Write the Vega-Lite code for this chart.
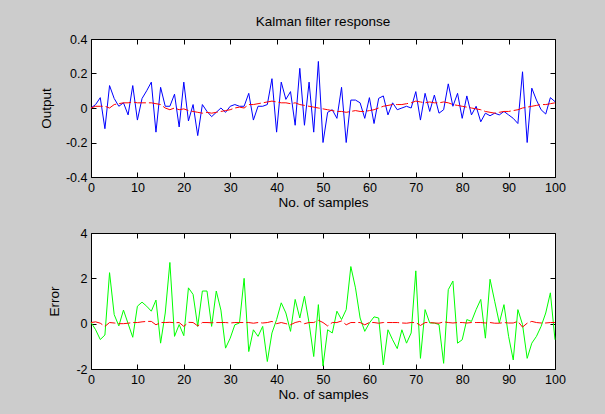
{
  "$schema": "https://vega.github.io/schema/vega-lite/v6.json",
  "background": "#cccccc",
  "padding": {"left": 38, "top": 14, "right": 48, "bottom": 14},
  "spacing": 16,
  "config": {
    "view": {"stroke": "#000000", "strokeWidth": 1, "fill": "#ffffff"},
    "font": "Liberation Sans",
    "axis": {
      "labelFont": "Liberation Sans", "labelFontSize": 12.5, "labelColor": "#000000", "labelFlush": false,
      "titleFont": "Liberation Sans", "titleFontSize": 13.5, "titleFontWeight": "normal", "titleColor": "#000000",
      "domain": false, "grid": false, "tickColor": "#000000", "tickSize": -5, "labelPadding": 9
    },
    "title": {"font": "Liberation Sans", "fontSize": 13.5, "fontWeight": "normal", "color": "#000000"}
  },
  "datasets": {
    "d": [
      {"x":0,"out":0.0,"est":0.0,"err":0.06,"eerr":0.05},
      {"x":1,"out":0.02,"est":0.01,"err":-0.27,"eerr":0.08},
      {"x":2,"out":0.06,"est":0.01,"err":-0.7,"eerr":0.02},
      {"x":3,"out":-0.12,"est":0.01,"err":-0.5,"eerr":-0.12},
      {"x":4,"out":0.13,"est":0.0,"err":2.25,"eerr":0.05},
      {"x":5,"out":0.055,"est":0.02,"err":0.4,"eerr":0.03},
      {"x":6,"out":0.01,"est":0.025,"err":-0.1,"eerr":0.0},
      {"x":7,"out":0.03,"est":0.03,"err":0.6,"eerr":0.0},
      {"x":8,"out":-0.04,"est":0.03,"err":0.0,"eerr":0.02},
      {"x":9,"out":0.13,"est":0.035,"err":-0.6,"eerr":0.05},
      {"x":10,"out":-0.07,"est":0.03,"err":0.77,"eerr":0.05},
      {"x":11,"out":0.055,"est":0.03,"err":0.95,"eerr":0.08},
      {"x":12,"out":0.1,"est":0.03,"err":0.77,"eerr":0.1},
      {"x":13,"out":0.15,"est":0.03,"err":0.55,"eerr":0.1},
      {"x":14,"out":-0.14,"est":0.025,"err":1.04,"eerr":-0.05},
      {"x":15,"out":0.12,"est":0.02,"err":-0.86,"eerr":0.05},
      {"x":16,"out":0.01,"est":0.0,"err":0.47,"eerr":0.05},
      {"x":17,"out":0.01,"est":-0.01,"err":2.7,"eerr":0.06},
      {"x":18,"out":0.08,"est":0.0,"err":-0.56,"eerr":0.04},
      {"x":19,"out":-0.11,"est":-0.01,"err":-0.04,"eerr":0.05},
      {"x":20,"out":0.15,"est":-0.005,"err":-0.53,"eerr":-0.12},
      {"x":21,"out":-0.075,"est":-0.015,"err":1.58,"eerr":0.06},
      {"x":22,"out":0.02,"est":-0.02,"err":1.29,"eerr":0.05},
      {"x":23,"out":-0.16,"est":-0.025,"err":-0.12,"eerr":-0.1},
      {"x":24,"out":0.02,"est":-0.03,"err":1.44,"eerr":0.05},
      {"x":25,"out":-0.02,"est":-0.025,"err":1.44,"eerr":0.05},
      {"x":26,"out":-0.05,"est":-0.03,"err":-0.12,"eerr":0.04},
      {"x":27,"out":-0.025,"est":-0.025,"err":1.44,"eerr":0.05},
      {"x":28,"out":0.0,"est":-0.02,"err":0.6,"eerr":0.05},
      {"x":29,"out":-0.025,"est":-0.015,"err":-1.08,"eerr":0.05},
      {"x":30,"out":0.01,"est":-0.01,"err":-0.64,"eerr":0.03},
      {"x":31,"out":0.02,"est":0.0,"err":-0.05,"eerr":0.05},
      {"x":32,"out":0.01,"est":0.005,"err":0.03,"eerr":0.05},
      {"x":33,"out":0.01,"est":0.0,"err":2.0,"eerr":0.05},
      {"x":34,"out":0.085,"est":0.02,"err":-1.23,"eerr":0.05},
      {"x":35,"out":-0.07,"est":0.02,"err":-0.27,"eerr":0.02},
      {"x":36,"out":0.01,"est":0.025,"err":-0.56,"eerr":0.05},
      {"x":37,"out":0.01,"est":0.03,"err":-0.12,"eerr":0.03},
      {"x":38,"out":0.02,"est":0.035,"err":-1.67,"eerr":0.05},
      {"x":39,"out":0.17,"est":0.04,"err":-0.41,"eerr":0.1},
      {"x":40,"out":-0.14,"est":0.035,"err":0.18,"eerr":0.0},
      {"x":41,"out":0.15,"est":0.03,"err":0.92,"eerr":0.05},
      {"x":42,"out":0.05,"est":0.03,"err":0.47,"eerr":0.0},
      {"x":43,"out":0.095,"est":0.025,"err":-0.34,"eerr":-0.05},
      {"x":44,"out":-0.1,"est":0.03,"err":1.07,"eerr":0.05},
      {"x":45,"out":0.23,"est":0.02,"err":0.25,"eerr":0.1},
      {"x":46,"out":-0.1,"est":0.015,"err":1.21,"eerr":0.0},
      {"x":47,"out":0.15,"est":0.01,"err":0.03,"eerr":0.05},
      {"x":48,"out":-0.14,"est":0.005,"err":-1.45,"eerr":0.05},
      {"x":49,"out":0.27,"est":0.0,"err":0.84,"eerr":0.15},
      {"x":50,"out":-0.2,"est":-0.005,"err":-1.87,"eerr":0.05},
      {"x":51,"out":-0.025,"est":-0.01,"err":-0.27,"eerr":-0.1},
      {"x":52,"out":-0.01,"est":-0.015,"err":-0.41,"eerr":0.05},
      {"x":53,"out":-0.06,"est":-0.02,"err":0.55,"eerr":0.05},
      {"x":54,"out":0.12,"est":-0.02,"err":0.18,"eerr":0.12},
      {"x":55,"out":-0.2,"est":-0.025,"err":0.62,"eerr":-0.05},
      {"x":56,"out":0.046,"est":-0.02,"err":2.52,"eerr":0.05},
      {"x":57,"out":0.046,"est":-0.015,"err":1.58,"eerr":0.05},
      {"x":58,"out":0.03,"est":-0.02,"err":0.25,"eerr":0.05},
      {"x":59,"out":-0.06,"est":-0.02,"err":-0.34,"eerr":-0.05},
      {"x":60,"out":0.06,"est":-0.015,"err":0.03,"eerr":0.05},
      {"x":61,"out":-0.09,"est":-0.01,"err":0.3,"eerr":0.05},
      {"x":62,"out":0.056,"est":0.0,"err":0.25,"eerr":0.02},
      {"x":63,"out":0.07,"est":0.01,"err":-1.82,"eerr":0.05},
      {"x":64,"out":-0.04,"est":0.015,"err":-0.27,"eerr":0.05},
      {"x":65,"out":0.03,"est":0.02,"err":-0.71,"eerr":0.05},
      {"x":66,"out":-0.01,"est":0.02,"err":-1.1,"eerr":0.05},
      {"x":67,"out":0.0,"est":0.02,"err":-0.27,"eerr":0.03},
      {"x":68,"out":0.01,"est":0.025,"err":-0.86,"eerr":0.02},
      {"x":69,"out":0.0,"est":0.03,"err":-0.41,"eerr":0.05},
      {"x":70,"out":0.095,"est":0.04,"err":2.33,"eerr":0.05},
      {"x":71,"out":-0.07,"est":0.035,"err":-1.53,"eerr":-0.08},
      {"x":72,"out":0.085,"est":0.03,"err":0.62,"eerr":0.05},
      {"x":73,"out":-0.02,"est":0.035,"err":0.03,"eerr":0.05},
      {"x":74,"out":0.075,"est":0.03,"err":0.03,"eerr":0.03},
      {"x":75,"out":-0.03,"est":0.03,"err":-0.04,"eerr":0.02},
      {"x":76,"out":-0.01,"est":0.035,"err":-1.75,"eerr":0.08},
      {"x":77,"out":0.14,"est":0.03,"err":1.5,"eerr":0.05},
      {"x":78,"out":0.01,"est":0.02,"err":1.88,"eerr":0.03},
      {"x":79,"out":0.085,"est":0.015,"err":-0.86,"eerr":0.05},
      {"x":80,"out":-0.06,"est":0.01,"err":-0.71,"eerr":0.05},
      {"x":81,"out":0.07,"est":0.005,"err":0.18,"eerr":0.03},
      {"x":82,"out":-0.04,"est":0.0,"err":0.1,"eerr":0.05},
      {"x":83,"out":0.01,"est":-0.005,"err":0.62,"eerr":0.05},
      {"x":84,"out":-0.08,"est":-0.01,"err":1.07,"eerr":0.05},
      {"x":85,"out":-0.03,"est":-0.02,"err":-0.64,"eerr":0.03},
      {"x":86,"out":-0.045,"est":-0.025,"err":1.96,"eerr":0.05},
      {"x":87,"out":-0.03,"est":-0.03,"err":0.99,"eerr":0.02},
      {"x":88,"out":-0.04,"est":-0.025,"err":0.03,"eerr":0.02},
      {"x":89,"out":-0.02,"est":-0.02,"err":0.84,"eerr":0.05},
      {"x":90,"out":-0.04,"est":-0.02,"err":-0.56,"eerr":0.03},
      {"x":91,"out":-0.06,"est":-0.015,"err":-1.6,"eerr":0.03},
      {"x":92,"out":-0.09,"est":-0.01,"err":0.62,"eerr":0.1},
      {"x":93,"out":0.21,"est":0.0,"err":-0.04,"eerr":-0.15},
      {"x":94,"out":-0.2,"est":0.005,"err":-1.53,"eerr":0.02},
      {"x":95,"out":0.115,"est":0.01,"err":-0.86,"eerr":0.1},
      {"x":96,"out":0.046,"est":0.015,"err":-0.56,"eerr":0.05},
      {"x":97,"out":-0.01,"est":0.02,"err":-0.12,"eerr":0.03},
      {"x":98,"out":-0.035,"est":0.02,"err":0.47,"eerr":0.03},
      {"x":99,"out":0.06,"est":0.025,"err":1.36,"eerr":0.05},
      {"x":100,"out":0.037,"est":0.03,"err":-0.71,"eerr":0.05}
    ]
  },
  "vconcat": [
    {
      "width": 464, "height": 138,
      "title": {"text": "Kalman filter response", "offset": 5},
      "data": {"name": "d"},
      "resolve": {"axis": {"x": "independent", "y": "independent"}},
      "layer": [
        {
          "mark": {"type": "line", "color": "#0000ff", "strokeWidth": 1},
          "encoding": {
            "x": {"field": "x", "type": "quantitative", "scale": {"domain": [0, 100], "nice": false},
                  "axis": {"title": "No. of samples", "values": [0,10,20,30,40,50,60,70,80,90,100], "titlePadding": 2}},
            "y": {"field": "out", "type": "quantitative", "scale": {"domain": [-0.4, 0.4], "nice": false},
                  "axis": {"title": "Output", "values": [-0.4,-0.2,0,0.2,0.4], "labelExpr": "toString(datum.value)", "titlePadding": 12}}
          }
        },
        {
          "mark": {"type": "line", "color": "#ff0000", "strokeWidth": 1, "strokeDash": [12, 3]},
          "encoding": {
            "x": {"field": "x", "type": "quantitative", "axis": {"orient": "top", "labels": false, "title": null, "values": [0,10,20,30,40,50,60,70,80,90,100]}},
            "y": {"field": "est", "type": "quantitative", "axis": {"orient": "right", "labels": false, "title": null, "values": [-0.4,-0.2,0,0.2,0.4]}}
          }
        }
      ]
    },
    {
      "width": 464, "height": 136,
      "data": {"name": "d"},
      "resolve": {"axis": {"x": "independent", "y": "independent"}},
      "layer": [
        {
          "mark": {"type": "line", "color": "#00ff00", "strokeWidth": 1},
          "encoding": {
            "x": {"field": "x", "type": "quantitative", "scale": {"domain": [0, 100], "nice": false},
                  "axis": {"title": "No. of samples", "values": [0,10,20,30,40,50,60,70,80,90,100], "titlePadding": 2}},
            "y": {"field": "err", "type": "quantitative", "scale": {"domain": [-2, 4], "nice": false},
                  "axis": {"title": "Error", "values": [-2,0,2,4], "labelExpr": "toString(datum.value)", "titlePadding": 14}}
          }
        },
        {
          "mark": {"type": "line", "color": "#ff0000", "strokeWidth": 1, "strokeDash": [12, 3]},
          "encoding": {
            "x": {"field": "x", "type": "quantitative", "axis": {"orient": "top", "labels": false, "title": null, "values": [0,10,20,30,40,50,60,70,80,90,100]}},
            "y": {"field": "eerr", "type": "quantitative", "axis": {"orient": "right", "labels": false, "title": null, "values": [-2,0,2,4]}}
          }
        }
      ]
    }
  ]
}
